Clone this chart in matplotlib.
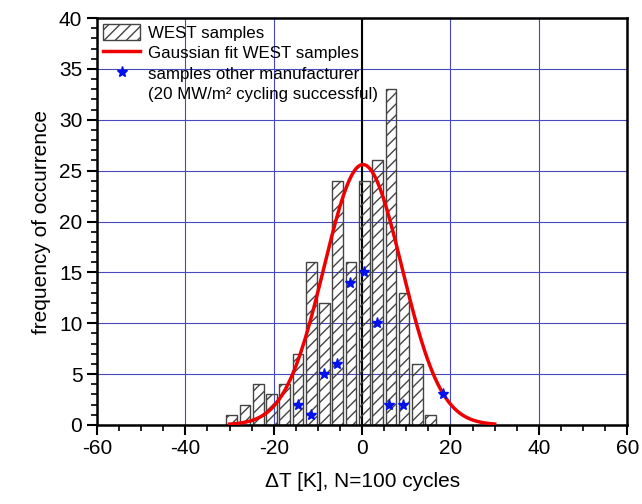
import numpy as np
import matplotlib.pyplot as plt
from matplotlib.lines import Line2D
from matplotlib.ticker import MultipleLocator

plt.rcParams['font.family'] = ['Liberation Sans', 'DejaVu Sans']
plt.rcParams['axes.unicode_minus'] = False

# histogram of WEST samples (bin centres, 3 K bins)
bin_centers = [-29.5, -26.5, -23.5, -20.5, -17.5, -14.5, -11.5, -8.5,
               -5.5, -2.5, 0.5, 3.5, 6.5, 9.5, 12.5, 15.5]
counts = [1, 2, 4, 3, 4, 7, 16, 12, 24, 16, 24, 26, 33, 13, 6, 1]

# gaussian fit parameters
fit_amp = 25.6
fit_mean = 0.2
fit_sigma = 8.8
fit_range = (-30, 30)

# other manufacturer samples
other_x = [-14.6, -11.6, -8.6, -5.7, -2.7, 0.4, 3.3, 6.2, 9.3, 18.3]
other_y = [2, 1, 5, 6, 14, 15, 10, 2, 2, 3]

fig = plt.figure(figsize=(6.42, 5.04), dpi=100)
ax = fig.add_axes([0.151, 0.157, 0.826, 0.807])

ax.grid(True, which='major', color='#4848c0', linewidth=0.8)
ax.set_axisbelow(True)
ax.axvline(0, color='black', linewidth=1.5, zorder=1)

bars = ax.bar(bin_centers, counts, width=2.4, facecolor='none', edgecolor='#444444',
              hatch='///', linewidth=1.0, label='WEST samples', zorder=2)

xs = np.linspace(fit_range[0], fit_range[1], 300)
fit_line, = ax.plot(xs, fit_amp * np.exp(-(xs - fit_mean) ** 2 / (2 * fit_sigma ** 2)),
                    color='#ee0000', linewidth=2.5, label='Gaussian fit WEST samples', zorder=3)

stars, = ax.plot(other_x, other_y, linestyle='none', marker='*', color='#0010ee',
                 markersize=8, label='samples other manufacturer', zorder=4)

# second line of the star legend entry, without a marker
blank = Line2D([], [], linestyle='none')

ax.set_xlim(-60, 60)
ax.set_ylim(0, 40)
ax.xaxis.set_major_locator(MultipleLocator(20))
ax.xaxis.set_minor_locator(MultipleLocator(5))
ax.yaxis.set_major_locator(MultipleLocator(5))
ax.yaxis.set_minor_locator(MultipleLocator(1))
ax.tick_params(which='major', direction='out', length=7, width=1.5, labelsize=15)
ax.tick_params(which='minor', direction='out', length=4, width=1.2)
for s in ax.spines.values():
    s.set_linewidth(1.8)

ax.set_xlabel('ΔT [K], N=100 cycles', fontsize=15, labelpad=10)
ax.set_ylabel('frequency of occurrence', fontsize=15, labelpad=6)

ax.legend([bars, fit_line, stars, blank],
          [bars.get_label(), fit_line.get_label(), stars.get_label(),
           '(20 MW/m² cycling successful)'],
          loc='upper left', frameon=False, fontsize=12.2, handlelength=2.2,
          handleheight=1.1, borderaxespad=0.1, borderpad=0.25,
          labelspacing=0.2, handletextpad=0.45)

fig.savefig('out.png', dpi=100)
